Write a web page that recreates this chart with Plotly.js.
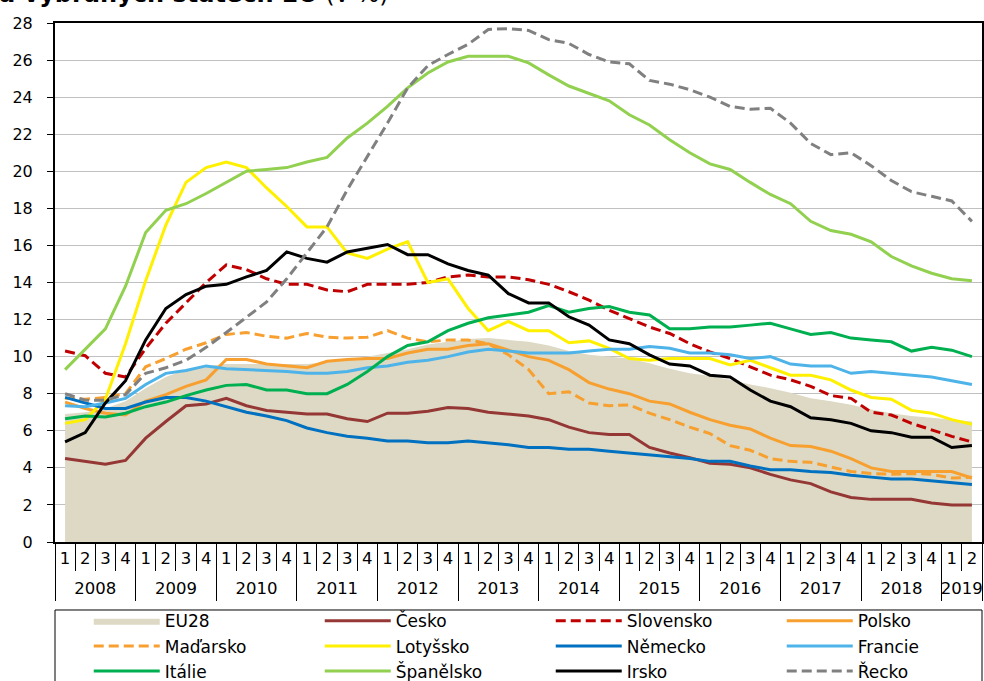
<!DOCTYPE html>
<html>
<head>
<meta charset="utf-8">
<script src="https://cdn.plot.ly/plotly-3.0.1.min.js"></script>
<style>html,body{margin:0;padding:0;background:#fff;}#chart{width:984px;height:681px;}</style>
</head>
<body>
<div id="chart"></div>
<script>
// Quarter labels (2008Q1 - 2019Q2)
var years = ['2008','2008','2008','2008','2009','2009','2009','2009','2010','2010','2010','2010',
  '2011','2011','2011','2011','2012','2012','2012','2012','2013','2013','2013','2013',
  '2014','2014','2014','2014','2015','2015','2015','2015','2016','2016','2016','2016',
  '2017','2017','2017','2017','2018','2018','2018','2018','2019','2019'];
var quarters = ['1','2','3','4','1','2','3','4','1','2','3','4','1','2','3','4','1','2','3','4',
  '1','2','3','4','1','2','3','4','1','2','3','4','1','2','3','4','1','2','3','4','1','2','3','4','1','2'];

var eu28 = [6.9,7.0,7.2,7.6,8.3,8.9,9.3,9.5,9.6,9.6,9.6,9.6,9.6,9.7,9.8,10.0,10.2,10.4,10.65,10.8,
  10.95,11.0,10.9,10.8,10.6,10.3,10.1,10.0,9.9,9.65,9.35,9.1,8.95,8.75,8.5,8.3,8.05,7.75,7.6,7.4,
  7.15,6.95,6.8,6.7,6.6,6.5];
var cesko = [4.5,4.35,4.2,4.4,5.6,6.5,7.35,7.45,7.75,7.35,7.1,7.0,6.9,6.9,6.65,6.5,6.95,6.95,7.05,7.25,
  7.2,7.0,6.9,6.8,6.6,6.2,5.9,5.8,5.8,5.1,4.8,4.55,4.25,4.2,4.0,3.65,3.35,3.15,2.7,2.4,
  2.3,2.3,2.3,2.1,2.0,2.0];
var slovensko = [10.3,10.05,9.1,8.9,10.45,11.8,12.9,14.0,14.95,14.7,14.2,13.9,13.9,13.6,13.5,13.9,13.9,13.9,14.0,14.3,
  14.4,14.3,14.3,14.15,13.9,13.5,13.05,12.5,12.05,11.6,11.25,10.7,10.25,9.9,9.45,9.0,8.75,8.4,7.9,7.75,
  7.0,6.85,6.4,6.05,5.7,5.4];
var polsko = [7.55,7.2,6.95,6.85,7.6,7.95,8.4,8.75,9.85,9.85,9.6,9.5,9.4,9.75,9.85,9.9,9.9,10.2,10.4,10.4,
  10.6,10.7,10.35,10.0,9.8,9.3,8.6,8.25,8.0,7.6,7.45,7.0,6.6,6.3,6.1,5.6,5.2,5.15,4.9,4.5,
  4.0,3.8,3.8,3.8,3.8,3.45];
var madarsko = [7.75,7.7,7.8,8.0,9.45,9.9,10.4,10.75,11.2,11.3,11.1,11.0,11.25,11.05,11.0,11.05,11.4,11.0,10.8,10.9,
  10.9,10.7,10.1,9.3,8.0,8.1,7.5,7.35,7.4,6.95,6.6,6.2,5.85,5.2,4.95,4.5,4.35,4.3,4.05,3.8,
  3.7,3.65,3.7,3.65,3.45,3.5];
var lotyssko = [6.4,6.6,7.7,10.7,14.1,17.1,19.4,20.2,20.5,20.2,19.1,18.1,17.0,17.0,15.6,15.3,15.8,16.2,14.0,14.2,
  12.6,11.4,11.9,11.4,11.4,10.75,10.85,10.45,9.9,9.8,9.9,9.9,9.9,9.55,9.8,9.4,9.0,9.0,8.75,8.2,
  7.8,7.7,7.1,6.95,6.6,6.35];
var nemecko = [7.8,7.5,7.2,7.2,7.55,7.8,7.8,7.6,7.3,7.0,6.8,6.55,6.15,5.9,5.7,5.6,5.45,5.45,5.35,5.35,
  5.45,5.35,5.25,5.1,5.1,5.0,5.0,4.9,4.8,4.7,4.6,4.5,4.35,4.35,4.1,3.9,3.9,3.8,3.75,3.6,
  3.5,3.4,3.4,3.3,3.2,3.1];
var francie = [7.35,7.3,7.5,7.75,8.5,9.1,9.25,9.5,9.35,9.3,9.25,9.2,9.1,9.1,9.2,9.4,9.5,9.7,9.8,10.0,
  10.25,10.4,10.3,10.2,10.2,10.2,10.3,10.4,10.4,10.55,10.45,10.2,10.2,10.1,9.9,10.0,9.6,9.5,9.5,9.1,
  9.2,9.1,9.0,8.9,8.7,8.5];
var italie = [6.65,6.8,6.75,6.95,7.3,7.55,7.9,8.2,8.45,8.5,8.2,8.2,8.0,8.0,8.5,9.2,10.0,10.6,10.8,11.4,
  11.8,12.1,12.25,12.4,12.75,12.4,12.6,12.7,12.4,12.25,11.5,11.5,11.6,11.6,11.7,11.8,11.5,11.2,11.3,11.0,
  10.9,10.8,10.3,10.5,10.35,10.0];
var spanelsko = [9.3,10.4,11.5,13.8,16.7,17.9,18.25,18.8,19.4,20.0,20.1,20.2,20.5,20.75,21.8,22.6,23.5,24.5,25.3,25.9,
  26.2,26.2,26.2,25.85,25.2,24.6,24.2,23.8,23.05,22.5,21.7,21.0,20.4,20.1,19.4,18.75,18.25,17.3,16.8,16.6,
  16.2,15.4,14.9,14.5,14.2,14.1];
var irsko = [5.4,5.9,7.5,8.7,10.9,12.6,13.35,13.8,13.9,14.3,14.65,15.65,15.3,15.1,15.65,15.85,16.05,15.5,15.5,15.0,
  14.65,14.4,13.4,12.9,12.9,12.15,11.7,10.9,10.7,10.1,9.6,9.5,9.0,8.9,8.2,7.6,7.3,6.7,6.6,6.4,
  6.0,5.9,5.65,5.65,5.1,5.2];
var recko = [8.0,7.65,7.65,7.95,9.1,9.4,9.8,10.5,11.3,12.15,12.95,14.2,15.6,17.0,19.0,20.8,22.6,24.5,25.7,26.3,
  26.85,27.65,27.7,27.6,27.1,26.9,26.3,25.9,25.8,24.9,24.7,24.4,24.0,23.5,23.35,23.4,22.6,21.5,20.9,21.0,
  20.3,19.5,18.9,18.65,18.4,17.3];

var seriesNames = ['Česko','Slovensko','Polsko','Maďarsko','Lotyšsko','Německo','Francie','Itálie','Španělsko','Irsko','Řecko'];
var seriesData = [cesko, slovensko, polsko, madarsko, lotyssko, nemecko, francie, italie, spanelsko, irsko, recko];
var seriesColors = ['#953735','#C00000','#F7A030','#F7A030','#FFF000','#0070C0','#4EB3E8','#00B050','#92D050','#000000','#808080'];
var seriesDash = ['solid','10px,5px','solid','10px,5px','solid','solid','solid','solid','solid','solid','10px,5px'];

// unique category ids for each quarter (category axis), and their index positions (overlay axis)
var periods = years.map(function (y, i) { return y + ' Q' + quarters[i]; });
var idx = years.map(function (y, i) { return i; });

// year group centres (labels) and boundaries (divider ticks) on the index scale
var yearLabels = [], yearCenters = [], yearBounds = [];
years.forEach(function (y, i) {
  if (i === 0 || years[i - 1] !== y) {
    yearBounds.push(i - 0.5);
    yearLabels.push(y);
    yearCenters.push((i + years.lastIndexOf(y)) / 2);
  }
});
yearBounds.push(years.length - 0.5);

// EU28 area sits on the main (category) axis underneath; the lines on the overlay axis above it
var traces = [{
  type: 'scatter', mode: 'lines', name: 'EU28', x: periods, y: eu28, xaxis: 'x', yaxis: 'y',
  fill: 'tozeroy', fillcolor: '#DDD9C4', line: {width: 0, color: '#DDD9C4'}
}];
for (var k = 0; k < seriesNames.length; k++) {
  traces.push({
    type: 'scatter', mode: 'lines', name: seriesNames[k], x: idx, y: seriesData[k],
    xaxis: 'x2', yaxis: 'y',
    line: {color: seriesColors[k], width: 3, dash: seriesDash[k]}
  });
}

var F = 'DejaVu Sans, Liberation Sans, Arial, sans-serif';
var N = years.length;
var layout = {
  width: 984, height: 681,
  margin: {l: 55, r: 2, t: 23, b: 139, autoexpand: false},
  paper_bgcolor: '#ffffff', plot_bgcolor: '#ffffff',
  showlegend: true,
  font: {family: F, size: 16, color: '#000'},
  xaxis: {
    type: 'category', range: [-0.5, N - 0.5],
    tickmode: 'array', tickvals: periods, ticktext: quarters,
    showline: true, linecolor: '#000', linewidth: 2, mirror: true,
    ticks: 'outside', tickson: 'boundaries', ticklen: 27, tickcolor: '#000', tickwidth: 1,
    showgrid: false, tickfont: {family: F, size: 16.5, color: '#000'}
  },
  xaxis2: {
    type: 'linear', overlaying: 'x', anchor: 'y', side: 'bottom',
    range: [-0.5, N - 0.5], showline: false, showgrid: false, zeroline: false,
    tickmode: 'array', tickvals: yearCenters, ticktext: yearLabels,
    ticks: '', ticklabelstandoff: 34,
    tickfont: {family: F, size: 16.5, color: '#000'},
    minor: {tickmode: 'array', tickvals: yearBounds, ticks: 'outside', ticklen: 58,
            tickcolor: '#000', tickwidth: 1, showgrid: false}
  },
  yaxis: {
    range: [0, 28], dtick: 2, tick0: 0,
    showline: true, linecolor: '#000', linewidth: 2, mirror: true,
    ticks: 'outside', ticklen: 6, tickcolor: '#000', tickwidth: 1,
    showgrid: true, gridcolor: '#C0C0C0', gridwidth: 1, zeroline: false,
    ticklabelstandoff: 11,
    tickfont: {family: F, size: 16, color: '#000'}
  },
  legend: {
    orientation: 'h', x: 0.0364, xanchor: 'left', y: -0.118, yanchor: 'top',
    bgcolor: 'rgba(0,0,0,0)', borderwidth: 0,
    entrywidth: 150, entrywidthmode: 'pixels', itemwidth: 66,
    font: {family: F, size: 17, color: '#000'}, traceorder: 'normal'
  },
  shapes: [{
    type: 'rect', xref: 'paper', yref: 'paper', x0: 0, x1: 1, y0: -0.131, y1: -0.4,
    line: {color: '#000', width: 1}, fillcolor: 'rgba(0,0,0,0)'
  }],
  annotations: [{
    xref: 'paper', yref: 'paper', x: 0, y: 1, xanchor: 'left', yanchor: 'bottom',
    xshift: -58, yshift: 13, showarrow: false,
    text: '<b>a vybraných státech EU</b> (v %)',
    font: {family: F, size: 24, color: '#000'}
  }]
};

Plotly.newPlot('chart', traces, layout, {displayModeBar: false, staticPlot: true});
</script>
</body>
</html>
